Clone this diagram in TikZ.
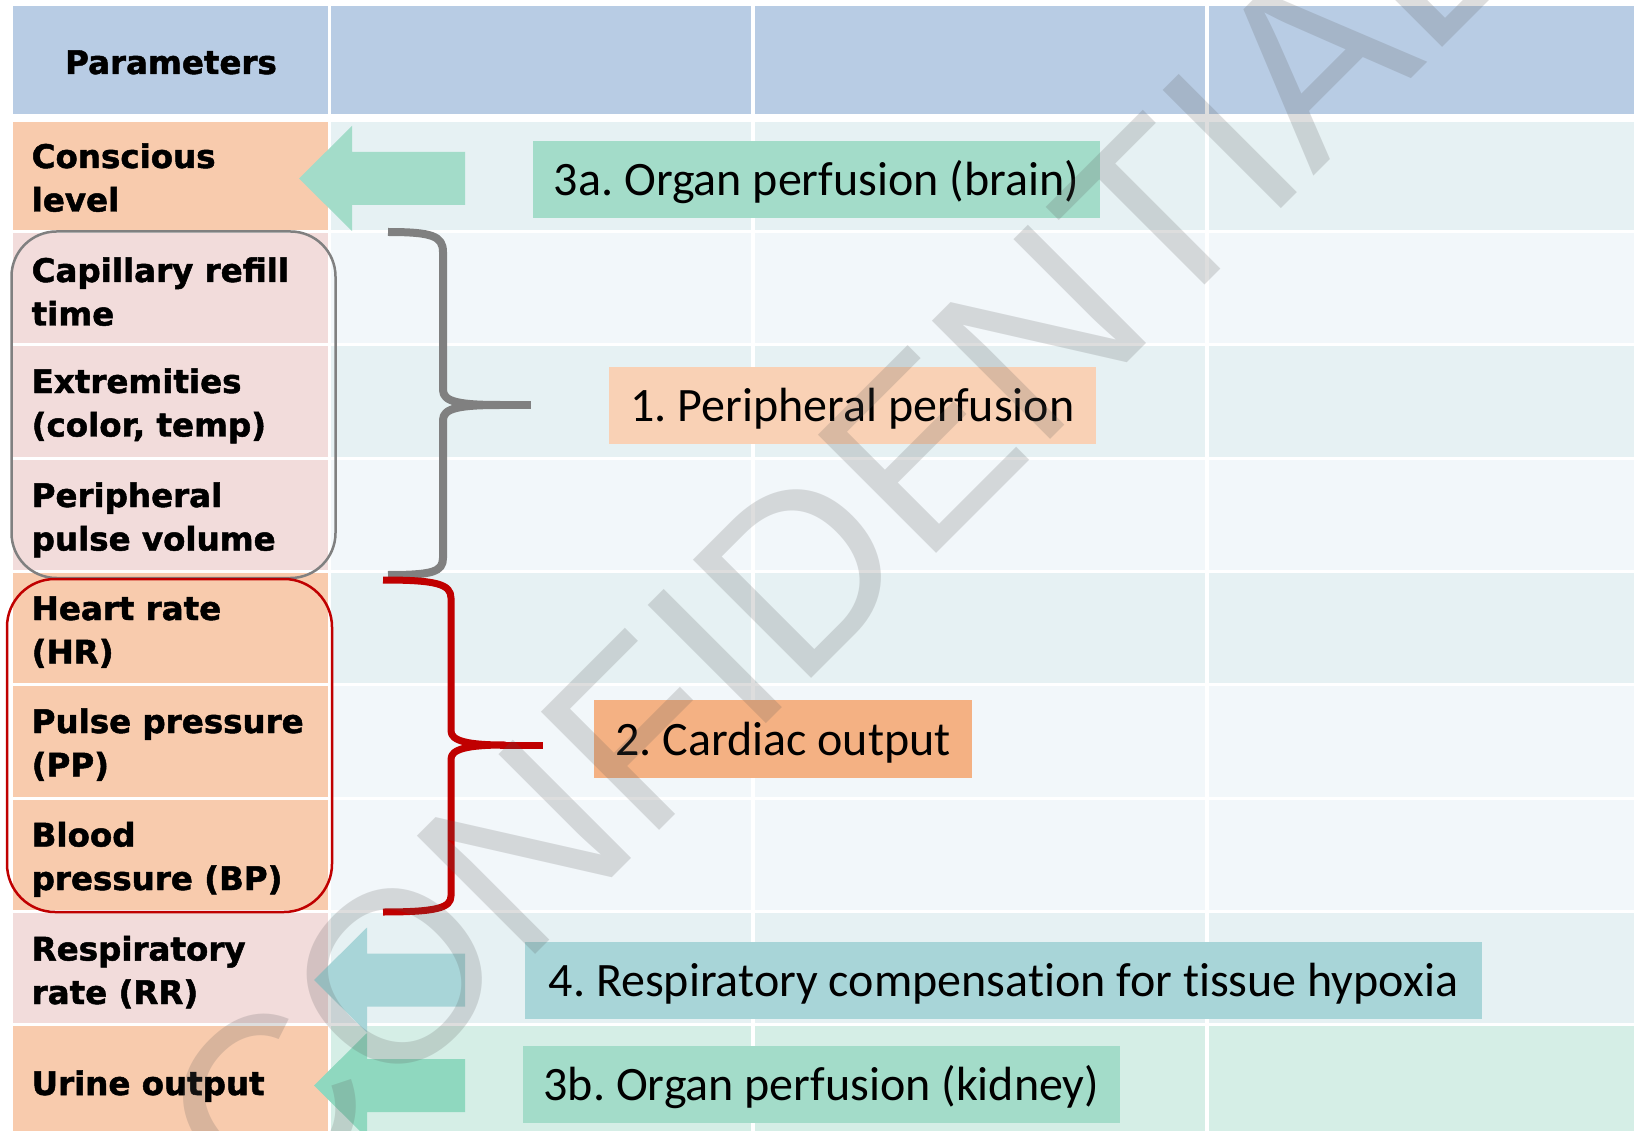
\documentclass[tikz,border=0pt]{standalone}
\usepackage{fontspec}
\setmainfont{Carlito}[Ligatures=NoCommon]
\newfontfamily\parfont{DejaVu Sans Bold}[FakeBold=1.5]
\newfontfamily\wmfont{Liberation Sans}
\definecolor{hdr}{HTML}{B8CCE4}
\definecolor{peach}{HTML}{F8CBAD}
\definecolor{pink}{HTML}{F2DCDB}
\definecolor{rowD}{HTML}{E6F1F3}
\definecolor{rowL}{HTML}{F2F7FA}
\definecolor{rowM}{HTML}{D5EEE6}
\definecolor{mint}{HTML}{A3DCC9}
\definecolor{mintdark}{HTML}{8FD8BF}
\definecolor{teal}{HTML}{A8D5D8}
\definecolor{boxpeach}{HTML}{F9D1B5}
\definecolor{boxorange}{HTML}{F4B183}
\definecolor{bracegray}{HTML}{808080}
\definecolor{bracered}{HTML}{C00000}
% block arrow: colour, tip x, tip y, tail x
\newcommand\blkarrow[4]{%
  \fill[#1] (#2,#3) -- ++(53,-52.5) -- ++(0,26) -- (#4,#3-26.5) -- (#4,#3+26.5)
    -- (#2+53,#3+26.5) -- ++(0,26) -- cycle;}
\frenchspacing
\begin{document}
\begin{tikzpicture}[x=1pt,y=-1pt,
  partxt/.style={anchor=base west, align=left, inner sep=0pt,
    font=\parfont\fontsize{32.5}{43.5}\selectfont},
  lbl/.style={inner sep=0pt, text height=33pt, text depth=1pt,
    font=\fontsize{48}{52}\selectfont},
  bracestyle/.style={line width=#1, line join=round},
]
\useasboundingbox (0,0) rectangle (1634,1131);
\fill[white] (0,0) rectangle (1634,1131);
% header
\foreach \a/\b in {13/328,331/751,755/1205,1209/1634}
  \fill[hdr] (\a,6) rectangle (\b,114);
% rows
\foreach \t/\b/\cA/\cB in {122/230/peach/rowD,233/343/pink/rowL,346/457/pink/rowD,
  460/570/pink/rowL,573/683/peach/rowD,686/797/peach/rowL,800/910/peach/rowL,
  913/1023/pink/rowD,1026/1131/peach/rowM}{
  \fill[\cA] (13,\t) rectangle (328,\b);
  \foreach \a/\c in {331/751,755/1205,1209/1634}
    \fill[\cB] (\a,\t) rectangle (\c,\b);
}
% header text
\node[anchor=base, inner sep=0pt, font=\parfont\fontsize{32.5}{43.5}\selectfont]
  (param) at (171,74) {Parameters};
% parameter cells (anchored at the baseline of the last line)
\node[partxt] (cons) at (31.5,211.5) {Conscious\\level};
\node[partxt] (crt) at (31.5,325.5) {Capillary refill\\time};
\node[partxt] (ext) at (31.5,436.5) {Extremities\\(color, temp)};
\node[partxt] (ppv) at (31.5,550.5) {Peripheral\\pulse volume};
\node[partxt] (hr) at (31.5,663.5) {Heart rate\\(HR)};
\node[partxt] (pp) at (31.5,776.5) {Pulse pressure\\(PP)};
\node[partxt] (bp) at (31.5,890) {Blood\\pressure (BP)};
\node[partxt] (rr) at (31.5,1004) {Respiratory\\rate (RR)};
\node[partxt] (uo) at (31.5,1095) {Urine output};
% grouping frames
\draw[bracegray, line width=2.5pt, rounded corners=45pt] (11.5,231.5) rectangle (335.5,578);
\draw[bracered, line width=2.5pt, rounded corners=48pt] (7,579) rectangle (332,912);
% braces
\draw[bracegray, bracestyle=8pt] (388,232) .. controls (432,232) and (443,236) .. (443,252)
  -- (443,390) .. controls (443,402) and (460,405) .. (500,405)
  .. controls (460,405) and (443,408) .. (443,420)
  -- (443,558) .. controls (443,572) and (432,575) .. (388,575);
\draw[bracegray, bracestyle=8pt] (495,405) -- (531,405);
\draw[bracered, bracestyle=7pt] (383,580) .. controls (436,580) and (451,584) .. (451,598)
  -- (451,731) .. controls (451,741) and (468,745) .. (505,745)
  .. controls (468,745) and (451,749) .. (451,759)
  -- (451,896) .. controls (451,908) and (436,912) .. (383,912);
\draw[bracered, bracestyle=7pt] (500,745) -- (543,745);
% block arrows
\blkarrow{mint}{299}{178.5}{465}
\blkarrow{teal}{314}{980}{465}
\blkarrow{mintdark}{314}{1085.5}{465}
% labels
\node[lbl, fill=mint, minimum width=567pt, minimum height=77pt] (brain) at (816.5,179.5) {3a. Organ perfusion (brain)};
\node[lbl, fill=boxpeach, minimum width=487pt, minimum height=77.5pt] (periph) at (852.5,405.7) {1. Peripheral perfusion};
\node[lbl, fill=boxorange, minimum width=378pt, minimum height=78pt] (cardiac) at (783,739) {2. Cardiac output};
\node[lbl, fill=teal, minimum width=957pt, minimum height=77pt] (resp) at (1003.5,980.5) {4. Respiratory compensation for tissue hypoxia};
\node[lbl, fill=mint, minimum width=597pt, minimum height=77pt] (kidney) at (821.5,1084.5) {3b. Organ perfusion (kidney)};
% watermark
\node[rotate=45, anchor=base, inner sep=0pt, text=black!65, text opacity=0.2,
  font=\wmfont\fontsize{243}{243}\selectfont] (wm) at (893.5,596.5) {CONFIDENTIAL};
\end{tikzpicture}
\end{document}
